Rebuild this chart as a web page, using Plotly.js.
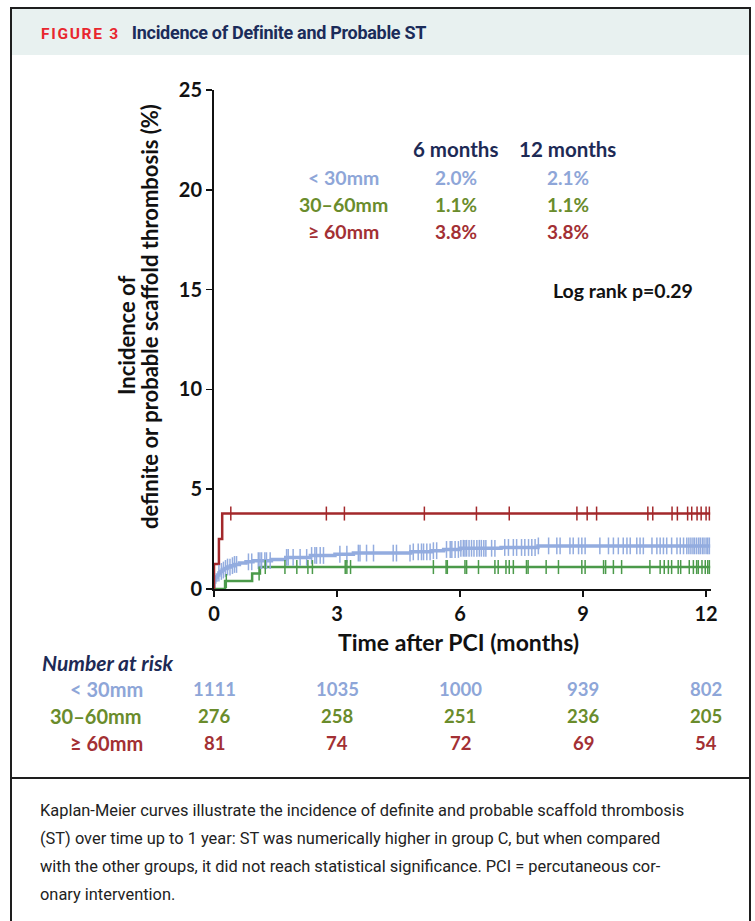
<!DOCTYPE html>
<html>
<head>
<meta charset="utf-8">
<script src="https://cdn.plot.ly/plotly-3.0.1.min.js"></script>
<style>
  html, body { margin:0; padding:0; background:#fff; }
  body { width:755px; height:921px; overflow:hidden; position:relative; }
  #frame { position:absolute; left:10px; top:7px; width:737px; height:940px;
           border:2px solid #1e1e1e; border-bottom:none; }
  #hdr { position:absolute; left:12px; top:9px; width:737px; height:46px; background:#e8f1f0; }
  #hdrtext { position:absolute; left:41px; top:22px; font-family:Roboto, sans-serif; font-weight:700;
             white-space:nowrap; }
  #fig { color:#e8262e; letter-spacing:1.7px; font-size:15.5px; margin-right:12px; }
  #ttl { color:#1b2c5a; letter-spacing:-0.3px; font-size:18px; }
  #sep { position:absolute; left:12px; top:777px; width:737px; height:2px; background:#1e1e1e; }
  #caption { position:absolute; left:40px; top:797px; font-family:Roboto, sans-serif; font-size:16.4px;
             line-height:28px; color:#222; white-space:nowrap; }
  #plot { position:absolute; left:0; top:0; width:755px; height:921px; }
</style>
</head>
<body>
<div id="frame"></div>
<div id="hdr"></div>
<div id="hdrtext"><span id="fig">FIGURE 3</span><span id="ttl">Incidence of Definite and Probable ST</span></div>
<div id="sep"></div>
<div id="caption">Kaplan-Meier curves illustrate the incidence of definite and probable scaffold thrombosis<br>(ST) over time up to 1 year: ST was numerically higher in group C, but when compared<br>with the other groups, it did not reach statistical significance. PCI = percutaneous cor-<br>onary intervention.</div>
<div id="plot"></div>
<script>
// ---- data ----
const groups = ['< 30mm', '30–60mm', '≥ 60mm'];
const lineColors = ['#93acdf', '#4b9a4a', '#a3282b'];
const textColors = ['#8ea6d8', '#6a8c2c', '#a33034'];

// step curves (months, cumulative incidence %)
const blueT = [0, 0, 0.02, 0.05, 0.08, 0.12, 0.16, 0.2, 0.25, 0.32, 0.4, 0.5, 0.62, 0.78, 0.95, 1.4, 1.75, 2.35, 2.95, 3.4, 4.8, 5.3, 5.6, 6.0, 7.0, 7.9, 12.1];
const blueY = [0, 0.35, 0.45, 0.6, 0.7, 0.8, 0.88, 0.95, 1.03, 1.1, 1.17, 1.23, 1.3, 1.36, 1.42, 1.48, 1.58, 1.68, 1.74, 1.8, 1.86, 1.92, 1.98, 2.04, 2.08, 2.16, 2.16];
const greenT = [0, 0.27, 0.93, 1.12, 12.1];
const greenY = [0, 0.4, 0.78, 1.1, 1.1];
const redT = [0, 0, 0.12, 0.2, 12.1];
const redY = [0, 1.25, 2.5, 3.78, 3.78];

// censoring times (months)
const blueCensor = [0.12, 0.18, 0.23, 0.28, 0.33, 0.39, 0.45, 0.50, 0.55, 0.84, 0.92, 1.08, 1.12, 1.16, 1.24, 1.28, 1.37, 1.77, 1.81, 1.93, 2.10, 2.26, 2.38, 2.46, 2.50, 2.59, 2.67, 3.07, 3.24, 3.52, 3.56, 3.72, 3.89, 4.37, 4.45, 4.78, 4.86, 4.98, 5.06, 5.11, 5.19, 5.27, 5.35, 5.43, 5.67, 5.76, 5.80, 5.88, 5.96, 6.02, 6.08, 6.12, 6.16, 6.22, 6.28, 6.34, 6.41, 6.47, 6.52, 6.58, 6.63, 6.77, 6.85, 7.09, 7.18, 7.30, 7.38, 7.50, 7.58, 7.67, 7.75, 7.83, 7.91, 8.16, 8.36, 8.44, 8.68, 8.76, 8.89, 8.97, 9.05, 9.41, 9.62, 9.74, 9.86, 9.98, 10.07, 10.15, 10.31, 10.39, 10.47, 10.68, 10.80, 10.88, 10.96, 11.04, 11.16, 11.29, 11.37, 11.45, 11.53, 11.58, 11.63, 11.68, 11.72, 11.77, 11.82, 11.86, 11.91, 11.95, 12.00, 12.04, 12.08];
const greenCensor = [0.30, 1.10, 1.25, 1.73, 2.02, 2.29, 2.40, 3.20, 3.24, 3.33, 5.35, 5.66, 5.69, 6.12, 6.16, 6.45, 6.85, 6.93, 7.12, 7.20, 7.30, 7.62, 7.66, 8.10, 8.40, 8.97, 9.05, 9.50, 9.55, 9.74, 9.94, 10.63, 10.88, 10.98, 11.08, 11.16, 11.32, 11.38, 11.59, 11.69, 11.77, 11.81, 11.90, 11.98, 12.04, 12.08];
const redCensor = [0.41, 2.74, 3.18, 5.13, 6.40, 7.20, 8.85, 9.10, 9.33, 10.58, 10.70, 11.17, 11.30, 11.55, 11.65, 11.78, 11.88, 12.0, 12.08];

// summary table
const tableHeaders = ['6 months', '12 months'];
const sixMonths = ['2.0%', '1.1%', '3.8%'];
const twelveMonths = ['2.1%', '1.1%', '3.8%'];
const logRank = 'Log rank p=0.29';

// number at risk
const riskTimes = [0, 3, 6, 9, 12];
const riskBlue = [1111, 1035, 1000, 939, 802];
const riskGreen = [276, 258, 251, 236, 205];
const riskRed = [81, 74, 72, 69, 54];

const xTicks = [0, 3, 6, 9, 12];
const yTicks = [0, 5, 10, 15, 20, 25];

// ---- build ----
function stepAt(T, Y, t) {
  let v = Y[0];
  for (let i = 0; i < T.length; i++) { if (T[i] <= t) v = Y[i]; }
  return v;
}
const curves = [[blueT, blueY, blueCensor, 3.5, 12], [greenT, greenY, greenCensor, 2.5, 10], [redT, redY, redCensor, 2.5, 10]];
const traces = [];
curves.forEach((c, i) => {
  traces.push({x: c[0], y: c[1], type: 'scatter', mode: 'lines', line: {shape: 'hv', color: lineColors[i], width: c[3]}, hoverinfo: 'skip'});
});
curves.forEach((c, i) => {
  traces.push({x: c[2], y: c[2].map(t => stepAt(c[0], c[1], t)), type: 'scatter', mode: 'markers', cliponaxis: false,
    marker: {symbol: 'line-ns', size: c[4], line: {color: lineColors[i], width: 1.5}}, hoverinfo: 'skip'});
});

const F = 'Lato, "Open Sans", sans-serif';
const ann = [];
const navy = '#1d2a55';
const px2y = py => (589 - py) / 19.96;         // data y from pixel
const px2py = py => (589 - py) / 499;           // paper y from pixel
const px2px = px => (px - 214) / 497;           // paper x from pixel
const bold = (size, color) => ({family: F, size: size, color: color, weight: 700});

ann.push({x: 5.9, y: px2y(149), text: tableHeaders[0], font: bold(20.5, navy)});
ann.push({x: 8.63, y: px2y(149), text: tableHeaders[1], font: bold(20.5, navy)});
const rowsY = [177, 204, 231];
groups.forEach((g, i) => {
  ann.push({x: 3.15, y: px2y(rowsY[i]), text: g, font: bold(19.5, textColors[i])});
  ann.push({x: 5.9, y: px2y(rowsY[i]), text: sixMonths[i], font: bold(19, textColors[i])});
  ann.push({x: 8.63, y: px2y(rowsY[i]), text: twelveMonths[i], font: bold(19, textColors[i])});
});
ann.push({x: 9.98, y: px2y(290), text: logRank, font: bold(19.5, '#111')});

// axis titles
ann.push({xref: 'paper', yref: 'paper', x: px2px(126), y: px2py(336), text: 'Incidence of', textangle: -90, font: bold(22, '#111')});
ann.push({xref: 'paper', yref: 'paper', x: px2px(149), y: px2py(317), text: 'definite or probable scaffold thrombosis (%)', textangle: -90, font: bold(22, '#111')});
ann.push({xref: 'paper', yref: 'paper', x: px2px(458), y: px2py(642), text: 'Time after PCI (months)', font: bold(23, '#111')});

// number at risk
ann.push({xref: 'paper', yref: 'paper', x: px2px(40), xanchor: 'left', y: px2py(662), text: '<i>Number at risk</i>', font: bold(21, navy)});
const riskRows = [riskBlue, riskGreen, riskRed];
const riskY = [689, 716, 743];
const riskLabelX = [106, 96, 106];
groups.forEach((g, i) => {
  ann.push({xref: 'paper', yref: 'paper', x: px2px(riskLabelX[i]), y: px2py(riskY[i]), text: g, font: bold(20, textColors[i])});
  riskTimes.forEach((t, j) => {
    ann.push({xref: 'x', yref: 'paper', x: t, y: px2py(riskY[i]), text: String(riskRows[i][j]), font: bold(18.5, textColors[i])});
  });
});
ann.forEach(a => { a.showarrow = false; if (!a.xanchor) a.xanchor = 'center'; a.yanchor = 'middle'; });

const layout = {
  width: 755, height: 921,
  margin: {l: 214, r: 44, t: 90, b: 332, pad: 0},
  paper_bgcolor: 'rgba(0,0,0,0)', plot_bgcolor: 'rgba(0,0,0,0)',
  showlegend: false,
  xaxis: {range: [0, 12.12], tickvals: xTicks, ticktext: xTicks.map(String), showgrid: false, zeroline: false,
    showline: true, linecolor: '#111', linewidth: 2, ticks: 'outside', ticklen: 6, tickwidth: 1.5, tickcolor: '#111',
    tickfont: bold(20, '#111'), fixedrange: true},
  yaxis: {range: [0, 25], tickvals: yTicks, ticktext: yTicks.map(String), showgrid: false, zeroline: false,
    showline: true, linecolor: '#111', linewidth: 2, ticks: 'outside', ticklen: 6, tickwidth: 1.5, tickcolor: '#111',
    tickfont: bold(20, '#111'), fixedrange: true},
  annotations: ann
};
Plotly.newPlot('plot', traces, layout, {displayModeBar: false, staticPlot: true});
</script>
</body>
</html>
